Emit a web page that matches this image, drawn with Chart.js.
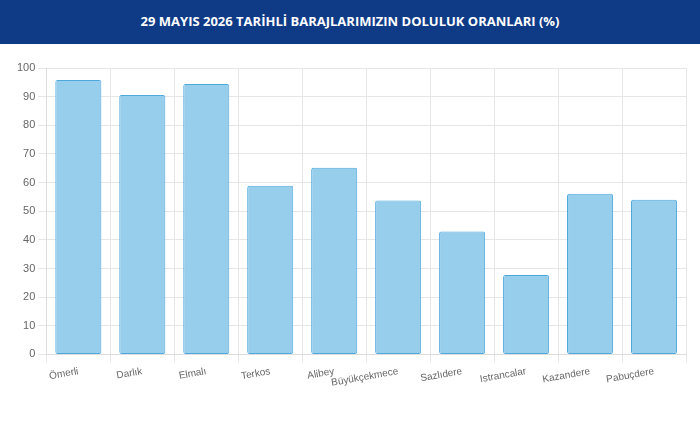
<!DOCTYPE html>
<html><head><meta charset="utf-8">
<script src="https://cdn.jsdelivr.net/npm/chart.js@4"></script>
<style>
body{margin:0;width:700px;height:426px;background:#fff;font-family:"Open Sans",sans-serif;overflow:hidden}
#hdr{height:44px;background:#0e3a86;color:#fff;font-weight:bold;font-size:13px;text-align:center;line-height:42px}
#wrap{position:relative;width:700px;height:382px}
</style></head><body>
<div id="hdr">29 MAYIS 2026 TARİHLİ BARAJLARIMIZIN DOLULUK ORANLARI (%)</div>
<div id="wrap"><canvas id="c"></canvas></div>
<script>
const categories=["Ömerli","Darlık","Elmalı","Terkos","Alibey","Büyükçekmece","Sazlıdere","Istrancalar","Kazandere","Pabuçdere"];
const values=[95.8,90.6,94.4,58.9,65.2,53.7,42.9,27.7,56.1,54.0];
new Chart(document.getElementById('c'),{
type:'bar',
data:{labels:categories,datasets:[{data:values,backgroundColor:'rgba(151,206,236,1)',borderColor:'#4ea8dc',borderWidth:1,borderSkipped:false,borderRadius:2}]},
options:{responsive:true,maintainAspectRatio:false,animation:false,
layout:{padding:{top:24,right:14,left:14,bottom:34}},
plugins:{legend:{display:false},tooltip:{enabled:false}},
scales:{
y:{min:0,max:100,ticks:{stepSize:10,color:'#666',font:{size:11}},grid:{color:'#e6e6e6'},border:{color:'#ddd'}},
x:{ticks:{color:'#666',font:{size:10},autoSkip:false,minRotation:10,maxRotation:10},grid:{color:'#e6e6e6'},border:{color:'#ddd'}}
}}});
</script></body></html>
